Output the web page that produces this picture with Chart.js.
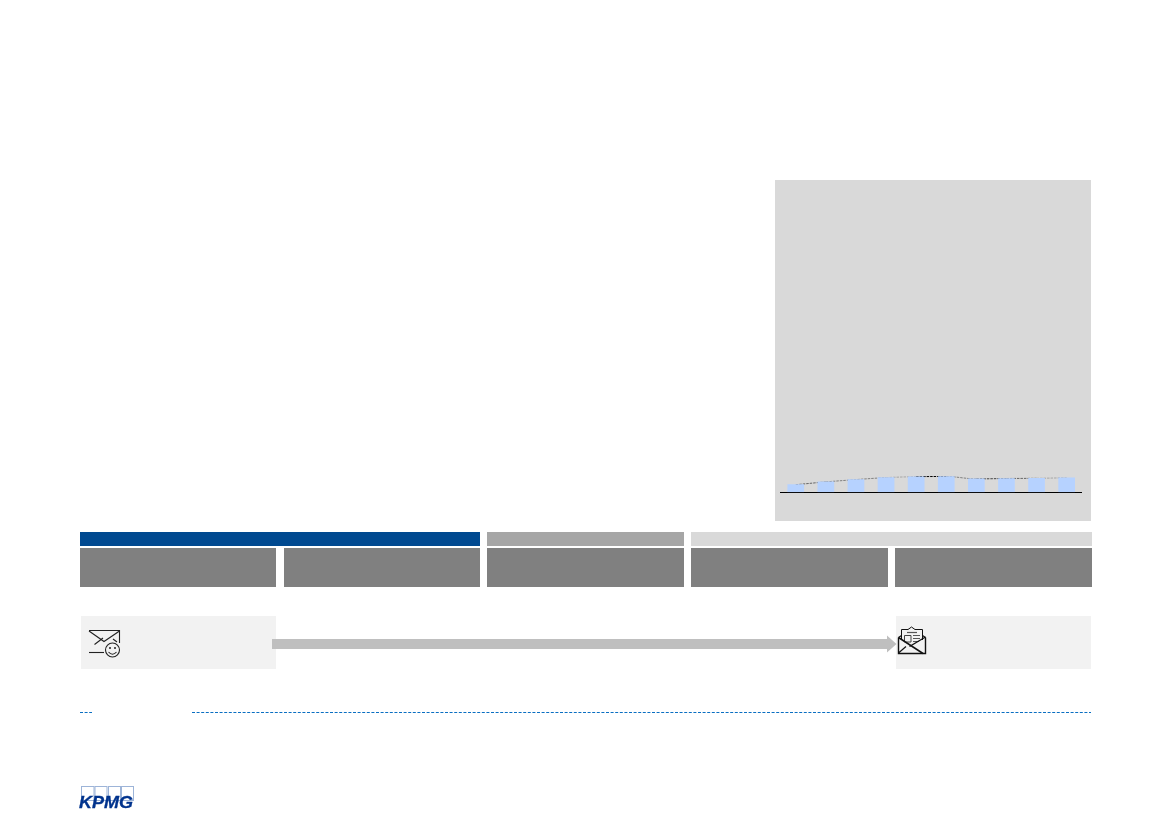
<!DOCTYPE html>
<html>
<head>
<meta charset="utf-8">
<style>
html,body{margin:0;padding:0;background:#fff;width:1169px;height:827px;overflow:hidden}
#page{position:relative;width:1169px;height:827px;font-family:"Liberation Sans",Arial,sans-serif}
.r{position:absolute}
#panel{position:absolute;left:775px;top:180px;width:316px;height:341px;background:#d9d9d9}
#panel canvas{position:absolute;left:0;top:0}
svg{position:absolute;left:0;top:0}
#kpmg{position:absolute;left:79px;top:794px;font:italic bold 17px "Liberation Sans",Arial,sans-serif;color:#00338d;line-height:17px;transform:scaleX(1.06);transform-origin:left top;-webkit-text-stroke:0.3px #00338d}
</style>
</head>
<body>
<div id="page">
  <div id="panel"><canvas id="c" width="316" height="341"></canvas></div>

  <div class="r" style="left:80px;top:532px;width:400px;height:14px;background:#004990"></div>
  <div class="r" style="left:487px;top:532px;width:197px;height:14px;background:#a6a6a6"></div>
  <div class="r" style="left:691px;top:532px;width:401px;height:14px;background:#d9d9d9"></div>

  <div class="r" style="left:80px;top:548px;width:196px;height:39px;background:#808080"></div>
  <div class="r" style="left:284px;top:548px;width:196px;height:39px;background:#808080"></div>
  <div class="r" style="left:487px;top:548px;width:197px;height:39px;background:#808080"></div>
  <div class="r" style="left:691px;top:548px;width:197px;height:39px;background:#808080"></div>
  <div class="r" style="left:895px;top:548px;width:197px;height:39px;background:#808080"></div>

  <div class="r" style="left:81px;top:616px;width:195px;height:53px;background:#f2f2f2"></div>
  <div class="r" style="left:896px;top:616px;width:195px;height:53px;background:#f2f2f2"></div>

  <svg width="1169" height="827" viewBox="0 0 1169 827">
    <!-- arrow -->
    <path d="M272 639H887V635.5L896.5 644L887 652.5V649H272Z" fill="#bfbfbf"/>
    <!-- dashed rule -->
    <line x1="80" y1="712.5" x2="92" y2="712.5" stroke="#0a6fc2" stroke-width="1" stroke-dasharray="3 1.6"/>
    <line x1="192" y1="712.5" x2="1091" y2="712.5" stroke="#0a6fc2" stroke-width="1" stroke-dasharray="3 1.6"/>
    <!-- smile envelope -->
    <g fill="none" stroke="#222" stroke-width="1.1">
      <path d="M89 630.5H119.5V643"/>
      <path d="M89 631L104 641.5L119.5 631"/>
      <path d="M94.5 644.5L103 638M113 639L117 642"/>
      <path d="M89 652.5H104"/>
      <circle cx="112.5" cy="650" r="7"/>
      <path d="M108.5 652Q112.5 656.5 116.5 652"/>
    </g>
    <circle cx="110" cy="648" r="1" fill="#222"/>
    <circle cx="115" cy="648" r="1" fill="#222"/>
    <!-- open envelope with newspaper -->
    <g fill="none" stroke="#111">
      <path d="M901.5 640V629.5H908L911.5 627L915 629.5H922.5V640" stroke-width="1"/>
      <path d="M907 632.5H917" stroke="#555" stroke-width="1.2"/>
      <path d="M904.5 635.5H911V642H904.5Z" stroke="#444" stroke-width="1"/>
      <path d="M913 635.5H920M913 638.5H920M913 641.5H919" stroke="#555" stroke-width="1"/>
      <path d="M898.5 637.5V653.5H925.5V637.5" stroke-width="1.4"/>
      <path d="M898.5 637.5L901.5 635.5M925.5 637.5L922.5 635.5" stroke-width="1.2"/>
      <path d="M898.5 637.5L923 653.5" stroke-width="1.5"/>
      <path d="M925.5 637L909.5 646.5" stroke-width="1.4"/>
      <path d="M898.5 653L906 646.5" stroke-width="1.2"/>
    </g>
    <!-- logo squares -->
    <g fill="none" stroke="#9db4d8" stroke-width="1">
      <rect x="81.5" y="786.5" width="12.5" height="14"/>
      <rect x="95" y="786.5" width="12" height="14"/>
      <rect x="108.5" y="786.5" width="12" height="14"/>
      <rect x="121.5" y="786.5" width="12" height="14"/>
    </g>
  </svg>
  <div id="kpmg">KPMG</div>
</div>
<script src="https://cdn.jsdelivr.net/npm/chart.js@4"></script>
<script>
const categories = ['1','2','3','4','5','6','7','8','9','10'];
const barValues  = [8, 10.7, 13, 15, 15.7, 16, 13.7, 14, 14.3, 14.7];
const lineValues = [7.6, 10.4, 12.7, 14.7, 15.6, 15.8, 13.4, 13.8, 14, 14.5];
const lineSegmentColors = ['#666666','#808080','#808080','#a6a6a6','#000000','#808080','#444444','#666666','#a6a6a6'];
const yMax = 300;

new Chart(document.getElementById('c'), {
  data: {
    labels: categories,
    datasets: [
      {
        type: 'bar',
        data: barValues,
        backgroundColor: '#b6d2ff',
        borderWidth: 0,
        categoryPercentage: 1,
        barPercentage: 0.555,
        order: 1
      },
      {
        type: 'line',
        data: lineValues,
        borderWidth: 1,
        borderDash: [2.5, 1],
        pointRadius: 0,
        cubicInterpolationMode: 'monotone',
        order: 2,
        segment: {
          borderColor: ctx => lineSegmentColors[ctx.p0DataIndex]
        }
      }
    ]
  },
  options: {
    responsive: false,
    animation: false,
    events: [],
    layout: { padding: { left: 5.7, right: 9.3, top: 12.3, bottom: 28.7 } },
    plugins: { legend: { display: false }, tooltip: { enabled: false }, title: { display: false } },
    scales: {
      x: {
        offset: true,
        grid: { display: false, drawTicks: false },
        border: { display: true, color: '#000000', width: 1 },
        ticks: { display: false }
      },
      y: {
        display: false,
        min: 0,
        max: yMax
      }
    }
  }
});
</script>
</body>
</html>
